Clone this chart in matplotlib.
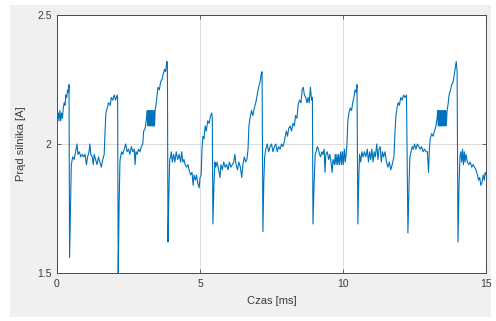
import matplotlib
matplotlib.use("Agg")
import matplotlib.pyplot as plt
from matplotlib.patches import Rectangle

# Motor current trace, read per commutation cycle: time [ms] and current [A]
t_c1 = [0.00, 0.02, 0.05, 0.07, 0.10, 0.13, 0.16, 0.19, 0.22, 0.25, 0.28, 0.31,
        0.34, 0.37, 0.40, 0.42, 0.44, 0.47, 0.50]
i_c1 = [2.00, 2.10, 2.12, 2.09, 2.13, 2.09, 2.12, 2.10, 2.14, 2.16, 2.15, 2.19,
        2.18, 2.21, 2.20, 2.23, 1.56, 1.75, 1.92]

t_c2 = [0.55, 0.60, 0.65, 0.70, 0.73, 0.78, 0.83, 0.88, 0.93, 0.98, 1.03, 1.07,
        1.12, 1.15, 1.18, 1.23, 1.27, 1.30, 1.35, 1.40, 1.45, 1.50, 1.55, 1.60,
        1.65, 1.68, 1.71, 1.76, 1.80, 1.86, 1.90, 1.95, 2.00, 2.05, 2.10, 2.12,
        2.14, 2.17, 2.20]
i_c2 = [1.95, 1.94, 1.97, 2.00, 1.96, 1.97, 1.95, 1.96, 1.95, 1.96, 1.92, 1.95,
        1.97, 2.00, 1.96, 1.95, 1.92, 1.96, 1.94, 1.92, 1.95, 1.93, 1.91, 1.94,
        1.96, 2.05, 2.12, 2.14, 2.16, 2.15, 2.18, 2.17, 2.19, 2.17, 2.19, 2.18,
        1.49, 1.75, 1.93]

t_c3 = [2.22, 2.26, 2.30, 2.35, 2.40, 2.45, 2.50, 2.55, 2.60, 2.65, 2.70, 2.73,
        2.76, 2.80, 2.85, 2.90, 2.95, 3.00, 3.03, 3.08, 3.12,
        3.15, 3.17, 3.19, 3.21, 3.23, 3.25, 3.27, 3.29, 3.31, 3.33, 3.35, 3.37,
        3.39, 3.41, 3.43,
        3.46, 3.50, 3.53, 3.58, 3.62, 3.67, 3.71, 3.76, 3.80, 3.84, 3.86, 3.88,
        3.91, 3.94]
i_c3 = [1.95, 1.97, 1.96, 1.98, 2.00, 1.97, 1.98, 1.96, 1.99, 1.97, 1.98, 1.92,
        1.97, 1.96, 1.98, 1.97, 1.99, 2.00, 2.05, 2.06, 2.09,
        2.13, 2.07, 2.13, 2.07, 2.13, 2.07, 2.13, 2.07, 2.13, 2.07, 2.13, 2.07,
        2.13, 2.07, 2.13,
        2.15, 2.19, 2.22, 2.21, 2.24, 2.25, 2.27, 2.29, 2.28, 2.32, 2.31, 1.62,
        1.80, 1.94]

t_c4 = [3.97, 4.00, 4.03, 4.08, 4.12, 4.17, 4.22, 4.27, 4.32, 4.36, 4.40, 4.44,
        4.48, 4.53, 4.58, 4.62, 4.67, 4.72, 4.76, 4.79, 4.84, 4.88, 4.92, 4.97,
        5.00, 5.04, 5.07, 5.10, 5.14, 5.18, 5.22, 5.27, 5.32, 5.37, 5.41, 5.43,
        5.45, 5.49, 5.52]
i_c4 = [1.95, 1.97, 1.93, 1.96, 1.93, 1.97, 1.94, 1.96, 1.93, 1.97, 1.93, 1.94,
        1.92, 1.91, 1.92, 1.90, 1.88, 1.89, 1.84, 1.88, 1.86, 1.88, 1.85, 1.83,
        1.87, 1.88, 1.98, 2.03, 2.02, 2.07, 2.05, 2.09, 2.08, 2.11, 2.12, 2.10,
        1.69, 1.85, 1.93]

t_c5 = [5.55, 5.60, 5.65, 5.70, 5.73, 5.78, 5.83, 5.88, 5.93, 5.98, 6.03, 6.08,
        6.13, 6.18, 6.22, 6.26, 6.31, 6.36, 6.41, 6.46, 6.50, 6.55, 6.60, 6.64,
        6.68, 6.71, 6.75, 6.80, 6.85, 6.90, 6.95, 7.00, 7.05, 7.10, 7.14, 7.17,
        7.20, 7.23, 7.26]
i_c5 = [1.91, 1.93, 1.90, 1.87, 1.92, 1.90, 1.93, 1.91, 1.92, 1.90, 1.93, 1.91,
        1.92, 1.93, 1.96, 1.92, 1.90, 1.93, 1.91, 1.87, 1.92, 1.95, 1.93, 1.94,
        1.98, 2.07, 2.10, 2.13, 2.11, 2.14, 2.16, 2.19, 2.22, 2.24, 2.27, 2.28,
        1.66, 1.85, 1.95]

t_c6 = [7.30, 7.35, 7.40, 7.45, 7.50, 7.55, 7.60, 7.65, 7.70, 7.75, 7.80, 7.85,
        7.90, 7.95, 7.98, 8.02, 8.06, 8.10, 8.15, 8.20, 8.25, 8.30, 8.34, 8.39,
        8.43, 8.48, 8.53, 8.57, 8.61, 8.65, 8.70, 8.74, 8.78, 8.82, 8.86, 8.90,
        8.93, 8.95, 8.99, 9.03]
i_c6 = [1.98, 2.00, 1.97, 1.99, 2.00, 1.97, 1.99, 2.00, 1.97, 1.99, 1.98, 2.00,
        1.99, 2.01, 2.03, 2.05, 2.03, 2.06, 2.07, 2.05, 2.08, 2.07, 2.11, 2.10,
        2.15, 2.17, 2.16, 2.21, 2.22, 2.19, 2.18, 2.16, 2.18, 2.16, 2.22, 2.17,
        2.18, 1.69, 1.85, 1.96]

t_c7 = [9.06, 9.10, 9.14, 9.18, 9.22, 9.26, 9.30, 9.34, 9.37, 9.40, 9.45, 9.50,
        9.54, 9.58, 9.62, 9.65, 9.70, 9.73, 9.76, 9.79, 9.82, 9.85, 9.88, 9.92,
        9.95, 9.98, 10.01, 10.05, 10.08, 10.11, 10.14, 10.17, 10.21, 10.25,
        10.30, 10.34, 10.38, 10.42, 10.46, 10.49, 10.52, 10.55, 10.58]
i_c7 = [1.97, 1.99, 1.98, 1.96, 1.95, 1.97, 1.96, 1.98, 1.89, 1.96, 1.97, 1.94,
        1.96, 1.93, 1.89, 1.94, 1.92, 1.96, 1.92, 1.96, 1.92, 1.96, 1.92, 1.97,
        1.92, 1.97, 1.92, 1.98, 1.93, 1.96, 2.00, 2.09, 2.12, 2.14,
        2.13, 2.16, 2.18, 2.21, 2.20, 2.23, 1.69, 1.86, 1.96]

t_c8 = [10.62, 10.66, 10.70, 10.75, 10.80, 10.85, 10.89, 10.93, 10.97, 11.01,
        11.05, 11.09, 11.13, 11.18, 11.22, 11.26, 11.30, 11.34, 11.38, 11.42,
        11.47, 11.52, 11.57, 11.62, 11.67, 11.72, 11.78, 11.82, 11.85, 11.89,
        11.93, 11.97, 12.02, 12.07, 12.12, 12.17, 12.22, 12.27, 12.31, 12.34]
i_c8 = [1.93, 1.97, 1.95, 1.97, 1.95, 1.98, 1.93, 1.97, 1.94, 1.98,
        1.93, 1.97, 1.95, 2.00, 1.94, 1.98, 1.99, 1.93, 1.97, 1.95,
        1.97, 1.93, 1.91, 1.93, 1.90, 1.92, 1.95, 2.05, 2.11, 2.14,
        2.16, 2.15, 2.18, 2.17, 2.19, 2.18, 2.19, 1.655, 1.85, 1.95]

t_c9 = [12.38, 12.42, 12.46, 12.50, 12.55, 12.60, 12.65, 12.70, 12.75, 12.80,
        12.85, 12.90, 12.95, 12.99, 13.02, 13.05, 13.10, 13.15, 13.20, 13.25,
        13.29, 13.31, 13.33, 13.35, 13.37, 13.39, 13.41, 13.43, 13.45, 13.47,
        13.49, 13.51, 13.53, 13.55, 13.57, 13.59, 13.61, 13.64,
        13.67, 13.71, 13.76, 13.80, 13.85, 13.89, 13.93, 13.96, 13.99, 14.02,
        14.06, 14.09]
i_c9 = [1.97, 1.99, 1.98, 2.00, 1.98, 2.00, 1.99, 1.98, 1.99, 1.97,
        1.98, 1.97, 1.97, 1.89, 1.98, 2.02, 2.04, 2.03, 2.05, 2.07,
        2.10, 2.13, 2.07, 2.13, 2.07, 2.13, 2.07, 2.13, 2.07, 2.13,
        2.07, 2.13, 2.07, 2.13, 2.07, 2.13, 2.07, 2.13,
        2.15, 2.19, 2.21, 2.23, 2.24, 2.27, 2.30, 2.32, 2.28, 1.62,
        1.85, 1.95]

t_c10 = [14.12, 14.15, 14.18, 14.21, 14.24, 14.27, 14.30, 14.35, 14.40, 14.45,
         14.50, 14.55, 14.60, 14.65, 14.70, 14.74, 14.78, 14.82, 14.86, 14.90,
         14.94, 14.97, 15.00]
i_c10 = [1.97, 1.93, 1.98, 1.92, 1.97, 1.93, 1.96, 1.93, 1.92, 1.93,
         1.91, 1.92, 1.91, 1.90, 1.88, 1.86, 1.87, 1.84, 1.85, 1.88,
         1.86, 1.89, 1.88]

x_ticks = [0, 5, 10, 15]
y_ticks = [1.5, 2.0, 2.5]
y_tick_labels = ["1.5", "2", "2.5"]

time_ms = (t_c1 + t_c2 + t_c3 + t_c4 + t_c5 + t_c6 + t_c7 + t_c8 + t_c9 + t_c10)
current_a = (i_c1 + i_c2 + i_c3 + i_c4 + i_c5 + i_c6 + i_c7 + i_c8 + i_c9 + i_c10)

plt.rcParams["font.family"] = ["Liberation Sans", "DejaVu Sans"]

fig = plt.figure(figsize=(4.96, 3.21), dpi=100, facecolor="white")
# light grey figure panel with a thin white margin
fig.patches.append(Rectangle((10 / 496, 4 / 321), 481 / 496, 312 / 321,
                             transform=fig.transFigure, facecolor="#f0f0f0",
                             edgecolor="none", zorder=-10))

ax = fig.add_axes([57 / 496, 1 - 273 / 321, 429 / 496, 258 / 321])
ax.set_zorder(1)
ax.set_facecolor("white")
ax.plot(time_ms, current_a, color="#0072BD", linewidth=0.8, zorder=3)

ax.set_xlim(0, 15)
ax.set_ylim(1.5, 2.5)
ax.set_xticks(x_ticks)
ax.set_yticks(y_ticks)
ax.set_yticklabels(y_tick_labels)

edge = "#4a4a4a"
for side in ax.spines.values():
    side.set_color(edge)
    side.set_linewidth(0.7)
ax.tick_params(direction="in", length=3, width=0.6, color=edge,
               labelcolor="#3a3a3a", labelsize=7.5,
               top=True, right=True, pad=4)
ax.grid(True, color="#dcdcdc", linewidth=0.7)
ax.set_axisbelow(True)

ax.set_xlabel("Czas [ms]", fontsize=8, color="#3a3a3a", labelpad=5)
ax.set_ylabel("Prąd silnika [A]", fontsize=8, color="#3a3a3a", labelpad=8)

fig.savefig("out.png", dpi=100, facecolor="white")
